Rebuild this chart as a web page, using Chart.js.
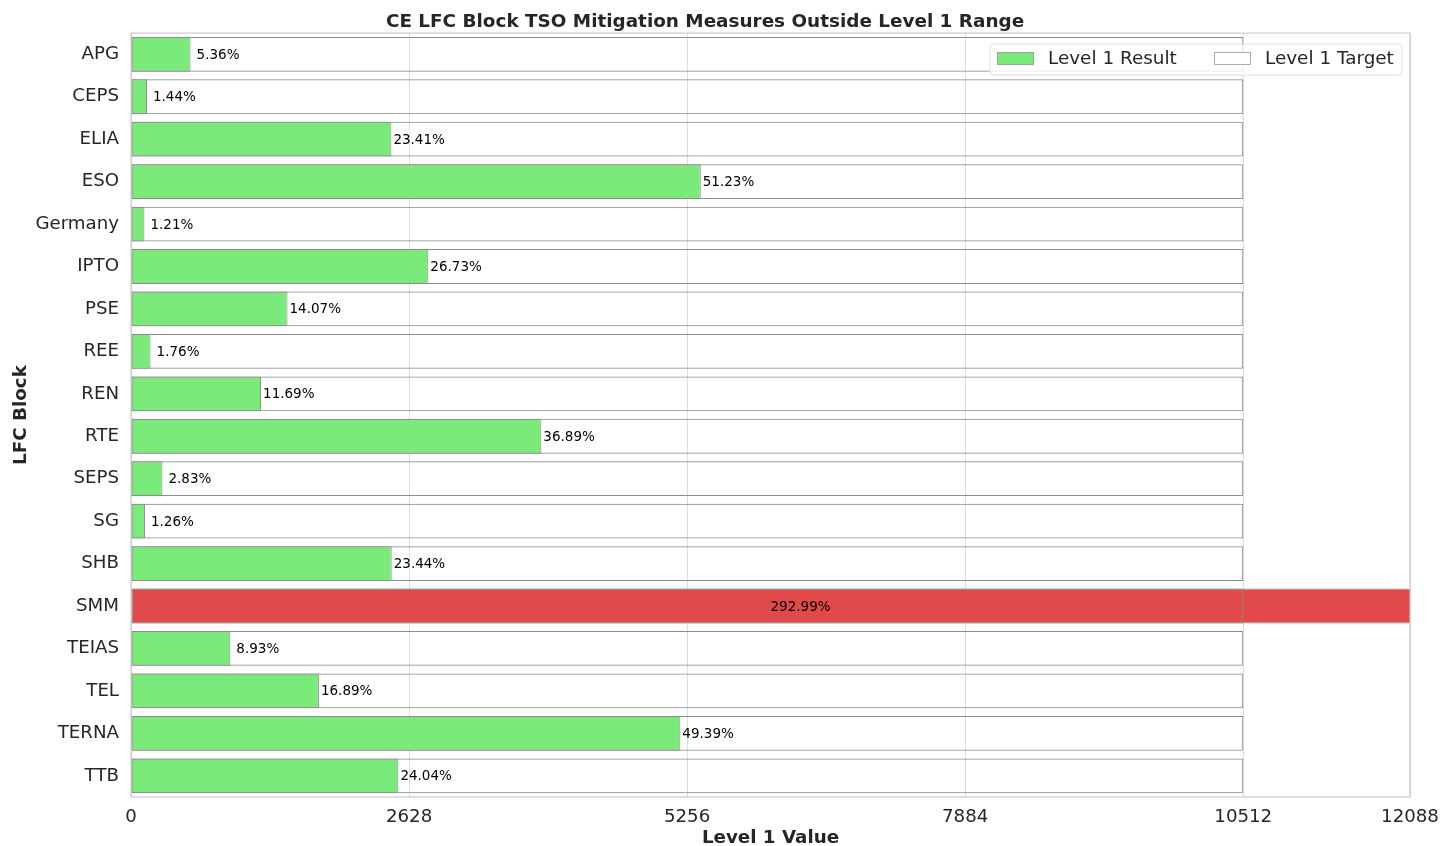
<!DOCTYPE HTML>
<html lang="en">
<head>
    <meta charset="utf-8">
    <script src="https://cdn.jsdelivr.net/npm/chart.js@4.4.0/dist/chart.umd.min.js"></script>
    <style>
        body { margin: 0; background: #fff; }
        #wrap { width: 1443px; height: 846px; }
    </style>
</head>
<body>
<div id="wrap"><canvas id="grafica" width="1443" height="846"></canvas></div>
<script>
    const bloques = ['APG', 'CEPS', 'ELIA', 'ESO', 'Germany', 'IPTO', 'PSE', 'REE', 'REN',
        'RTE', 'SEPS', 'SG', 'SHB', 'SMM', 'TEIAS', 'TEL', 'TERNA', 'TTB']

    // porcentaje sobre el objetivo, tal como sale en las etiquetas
    const porcentajes = [5.36, 1.44, 23.41, 51.23, 1.21, 26.73, 14.07, 1.76, 11.69,
        36.89, 2.83, 1.26, 23.44, 292.99, 8.93, 16.89, 49.39, 24.04]

    const resultados = [563, 151, 2461, 5385, 127, 2810, 1479, 185, 1229,
        3878, 297, 132, 2464, 30799, 939, 1776, 5192, 2527]

    const objetivos = [10512, 10512, 10512, 10512, 10512, 10512, 10512, 10512, 10512,
        10512, 10512, 10512, 10512, 10512, 10512, 10512, 10512, 10512]

    const ticksX = [0, 2628, 5256, 7884, 10512, 12088]

    const fuente = 'DejaVu Sans'
    const verde = '#7aeb7a'
    const rojo = '#e24a4a'

    const coloresResultado = porcentajes.map(p => p > 100 ? rojo : verde)

    const etiquetasBarras = {
        id: 'etiquetasBarras',
        afterDatasetsDraw(chart) {
            const ctx = chart.ctx
            const meta = chart.getDatasetMeta(0)
            const x = chart.scales.x
            ctx.save()
            ctx.font = '13.5px "' + fuente + '"'
            ctx.fillStyle = '#000'
            ctx.textAlign = 'left'
            ctx.textBaseline = 'middle'
            meta.data.forEach((barra, i) => {
                const p = porcentajes[i]
                let px
                if (p > 100) px = x.getPixelForValue(x.max / 2)
                else px = barra.x + (p < 10 ? 6 : 2)
                ctx.fillText(p.toFixed(2) + '%', px, barra.y + 1)
            })
            ctx.restore()
        }
    }

    const marco = {
        id: 'marco',
        afterDraw(chart) {
            const ctx = chart.ctx
            const a = chart.chartArea
            ctx.save()
            ctx.strokeStyle = '#cccccc'
            ctx.lineWidth = 1.2
            ctx.strokeRect(a.left, a.top, a.right - a.left, a.bottom - a.top)

            // leyenda dentro del area
            const lx = a.right - 420, ly = a.top + 11, lw = 412, lh = 31
            ctx.beginPath()
            ctx.roundRect(lx, ly, lw, lh, 4)
            ctx.fillStyle = 'rgba(255,255,255,0.8)'
            ctx.fill()
            ctx.strokeStyle = '#dddddd'
            ctx.lineWidth = 1
            ctx.stroke()

            ctx.font = '18.4px "' + fuente + '"'
            ctx.textBaseline = 'middle'
            ctx.textAlign = 'left'
            const items = [
                { texto: chart.data.datasets[0].label, relleno: verde, x: lx + 7 },
                { texto: chart.data.datasets[1].label, relleno: '#ffffff', x: lx + 224 }
            ]
            items.forEach(it => {
                ctx.fillStyle = it.relleno
                ctx.fillRect(it.x, ly + 8, 37, 13)
                ctx.strokeStyle = '#999999'
                ctx.lineWidth = 0.8
                ctx.strokeRect(it.x + 0.5, ly + 8.5, 36, 12)
                ctx.fillStyle = '#262626'
                ctx.fillText(it.texto, it.x + 51, ly + 15)
            })
            ctx.restore()
        }
    }

    const contenedor = document.querySelector('#grafica')
    const grafica = new Chart(contenedor, {
        type: 'bar',
        data: {
            labels: bloques,
            datasets: [{
                label: 'Level 1 Result',
                data: resultados,
                backgroundColor: coloresResultado,
                borderColor: '#8c8c8c',
                borderWidth: 1,
                borderSkipped: false,
                grouped: false,
                order: 1,
                barPercentage: 0.82,
                categoryPercentage: 1
            }, {
                label: 'Level 1 Target',
                data: objetivos,
                backgroundColor: 'rgba(255,255,255,0)',
                borderColor: '#8c8c8c',
                borderWidth: 1,
                borderSkipped: false,
                grouped: false,
                order: 0,
                barPercentage: 0.82,
                categoryPercentage: 1
            }]
        },
        options: {
            indexAxis: 'y',
            responsive: false,
            animation: false,
            devicePixelRatio: 1,
            layout: { padding: { left: 0, right: 33, top: 11, bottom: 0 } },
            plugins: {
                legend: { display: false },
                tooltip: { enabled: false },
                title: {
                    display: true,
                    text: 'CE LFC Block TSO Mitigation Measures Outside Level 1 Range',
                    color: '#262626',
                    font: { family: fuente, size: 18.4, weight: 'bold', lineHeight: 1.2 },
                    padding: { top: 0, bottom: 0 }
                }
            },
            scales: {
                x: {
                    type: 'linear',
                    min: 0,
                    max: 12088,
                    afterBuildTicks: (eje) => { eje.ticks = ticksX.map(v => ({ value: v })) },
                    afterFit: (eje) => {
                        eje.height = 49
                        eje.paddingLeft = 0
                        eje.paddingRight = 0
                    },
                    grid: { color: '#dcdcdc', lineWidth: 1, drawTicks: false },
                    border: { display: false },
                    ticks: {
                        color: '#262626',
                        font: { family: fuente, size: 18.2 },
                        padding: 9,
                        maxRotation: 0,
                        autoSkip: false,
                        callback: (v) => String(v)
                    },
                    title: {
                        display: true,
                        text: 'Level 1 Value',
                        color: '#262626',
                        font: { family: fuente, size: 18.3, weight: 'bold', lineHeight: 0.9 },
                        padding: { top: 0, bottom: 0 }
                    }
                },
                y: {
                    afterFit: (eje) => { eje.width = 131 },
                    grid: { display: false, drawTicks: false },
                    border: { display: false },
                    ticks: {
                        color: '#262626',
                        font: { family: fuente, size: 18.2 },
                        padding: 12,
                        autoSkip: false
                    },
                    title: {
                        display: true,
                        text: 'LFC Block',
                        color: '#262626',
                        font: { family: fuente, size: 18.3, weight: 'bold', lineHeight: 1.2 },
                        padding: { top: 10, bottom: 0 }
                    }
                }
            }
        },
        plugins: [etiquetasBarras, marco]
    })
</script>
</body>
</html>
